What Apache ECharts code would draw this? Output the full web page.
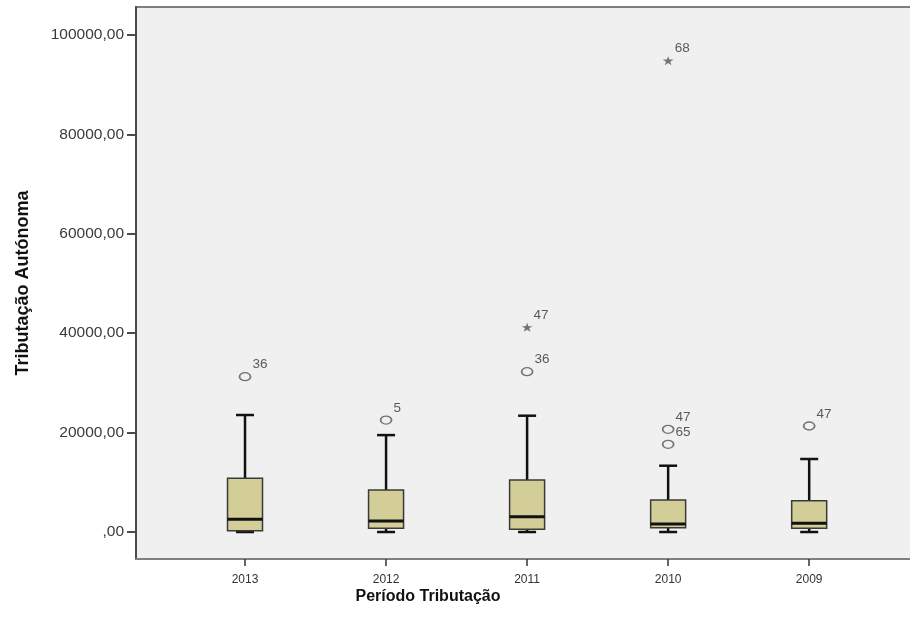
<!DOCTYPE html>
<html>
<head>
<meta charset="utf-8">
<script src="https://cdn.jsdelivr.net/npm/echarts@6/dist/echarts.min.js"></script>
<style>
  html, body { margin: 0; padding: 0; background: #ffffff; }
  #chart { width: 910px; height: 618px; }
</style>
</head>
<body>
<div id="chart"></div>
<script>
// Tax periods (category axis) and box statistics per period
const years = ['2013', '2012', '2011', '2010', '2009'];
const whiskerLow = [0, 0, 0, 0, 0];
const quartile1 = [260, 740, 540, 870, 740];
const medians = [2550, 2210, 3080, 1610, 1750];
const quartile3 = [10800, 8450, 10460, 6440, 6300];
const whiskerHigh = [23540, 19500, 23400, 13340, 14690];

// Outliers (circles) and extreme values (stars): [period index, value, case id]
const outliers = [
  [0, 31250, '36'],
  [1, 22530, '5'],
  [2, 32250, '36'],
  [3, 20660, '47'],
  [3, 17640, '65'],
  [4, 21330, '47']
];
const extremes = [
  [2, 41190, '47'],
  [3, 94830, '68']
];

// Y axis tick values
const yTicks = [0, 20000, 40000, 60000, 80000, 100000];
const yMin = -5430;
const yMax = 105630;

const boxData = years.map((y, i) => [i, whiskerLow[i], quartile1[i], medians[i], quartile3[i], whiskerHigh[i]]);

const FONT = 'Liberation Sans, Arial, sans-serif';
const STAR = 'path://M50,0 L61.8,35.5 L100,35.5 L69.1,57.4 L80.9,93 L50,71 L19.1,93 L30.9,57.4 L0,35.5 L38.2,35.5 Z';

const chart = echarts.init(document.getElementById('chart'), null, { renderer: 'canvas' });

const caseLabel = {
  show: true,
  position: 'right',
  distance: 1,
  offset: [0, -12],
  formatter: p => p.data[2],
  fontFamily: FONT,
  fontSize: 13.5,
  color: '#333333'
};

chart.setOption({
  animation: false,
  backgroundColor: '#ffffff',
  grid: [
    { // frame of the plot area; it runs past the right edge of the canvas
      left: 136, top: 7, width: 782, bottom: 59,
      outerBoundsMode: 'none', containLabel: false,
      show: true, backgroundColor: '#f0f0f0',
      borderColor: '#555555', borderWidth: 1.5
    },
    { // band layout for the five periods
      left: 174.5, top: 7, width: 705.2, bottom: 59,
      outerBoundsMode: 'none', containLabel: false
    }
  ],
  xAxis: [
    {
      gridIndex: 0, type: 'value', min: 0, max: 1,
      axisLine: { show: true, onZero: false, lineStyle: { color: '#808080', width: 2 } },
      axisTick: { show: false }, axisLabel: { show: false }, splitLine: { show: false }
    },
    {
      gridIndex: 1, type: 'category', data: years, boundaryGap: true,
      axisLine: { show: false, onZero: false },
      axisTick: { show: true, alignWithLabel: true, length: 7, lineStyle: { color: '#333333', width: 1.5 } },
      axisLabel: { margin: 15, fontFamily: FONT, fontSize: 12, color: '#333333' },
      splitLine: { show: false }
    }
  ],
  yAxis: [
    {
      gridIndex: 0, type: 'value', min: yMin, max: yMax,
      name: 'Tributação Autónoma', nameLocation: 'middle', nameGap: 104,
      nameTextStyle: { fontFamily: FONT, fontSize: 18, fontWeight: 'bold', color: '#111111' },
      axisLine: { show: true, lineStyle: { color: '#4a4a4a', width: 2 } },
      axisTick: { show: true, length: 9, customValues: yTicks, lineStyle: { color: '#4a4a4a', width: 2 } },
      axisLabel: {
        margin: 12, customValues: yTicks, fontFamily: FONT, fontSize: 15.5, color: '#3a3a3a',
        formatter: v => (v === 0 ? ',00' : v + ',00')
      },
      splitLine: { show: false }
    },
    {
      gridIndex: 1, type: 'value', min: yMin, max: yMax, show: false,
      splitLine: { show: false }
    }
  ],
  graphic: [
    {
      type: 'text', x: 428, y: 597,
      style: {
        text: 'Período Tributação', fontFamily: FONT, fontSize: 16, fontWeight: 'bold',
        fill: '#111111', align: 'center', verticalAlign: 'middle'
      }
    }
  ],
  series: [
    {
      type: 'custom',
      xAxisIndex: 1, yAxisIndex: 1,
      data: boxData,
      encode: { x: 0, y: [1, 2, 3, 4, 5] },
      renderItem: function (params, api) {
        const x = api.value(0);
        const pLow = api.coord([x, api.value(1)]);
        const pQ1 = api.coord([x, api.value(2)]);
        const pMed = api.coord([x, api.value(3)]);
        const pQ3 = api.coord([x, api.value(4)]);
        const pHigh = api.coord([x, api.value(5)]);
        const half = 17.5;
        const cap = 9;
        const cx = pMed[0];
        const whisker = { stroke: '#111111', lineWidth: 2.5 };
        return {
          type: 'group',
          children: [
            { type: 'line', shape: { x1: cx, y1: pQ3[1], x2: cx, y2: pHigh[1] }, style: whisker },
            { type: 'line', shape: { x1: cx - cap, y1: pHigh[1], x2: cx + cap, y2: pHigh[1] }, style: whisker },
            { type: 'line', shape: { x1: cx, y1: pLow[1], x2: cx, y2: pQ1[1] }, style: whisker },
            { type: 'line', shape: { x1: cx - cap, y1: pLow[1], x2: cx + cap, y2: pLow[1] }, style: whisker },
            {
              type: 'rect',
              shape: { x: cx - half, y: pQ3[1], width: half * 2, height: pQ1[1] - pQ3[1] },
              style: { fill: '#d3ce98', stroke: '#3a3a3a', lineWidth: 1.5 }
            },
            { type: 'line', shape: { x1: cx - half, y1: pMed[1], x2: cx + half, y2: pMed[1] }, style: { stroke: '#111111', lineWidth: 3 } }
          ]
        };
      }
    },
    {
      type: 'scatter',
      xAxisIndex: 1, yAxisIndex: 1,
      data: outliers,
      symbol: 'circle',
      symbolSize: [11, 8],
      itemStyle: { color: 'rgba(0,0,0,0)', borderColor: '#555555', borderWidth: 1.5 },
      label: caseLabel
    },
    {
      type: 'scatter',
      xAxisIndex: 1, yAxisIndex: 1,
      data: extremes,
      symbol: STAR,
      symbolSize: [11, 9],
      itemStyle: { color: '#555555' },
      label: caseLabel
    }
  ]
});
</script>
</body>
</html>
